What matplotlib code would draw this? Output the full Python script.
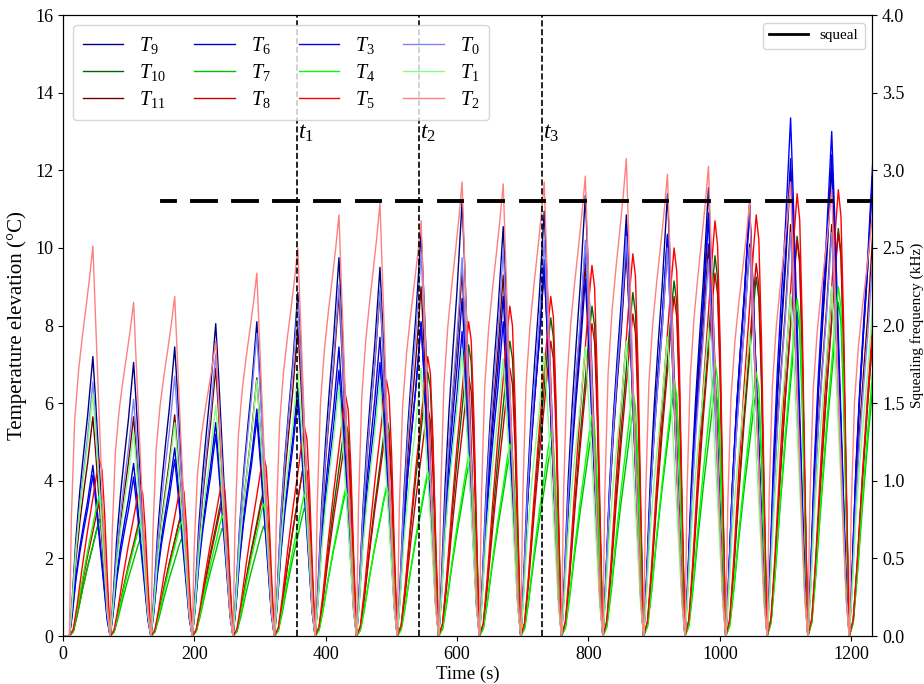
import matplotlib
matplotlib.use("Agg")
import matplotlib.pyplot as plt
import numpy as np

plt.rcParams["font.family"] = ["Liberation Serif", "DejaVu Serif"]
plt.rcParams["mathtext.fontset"] = "custom"
plt.rcParams["mathtext.rm"] = "Liberation Serif"
plt.rcParams["mathtext.it"] = "Liberation Serif:italic"

# start of each heating cycle (s); last entry closes the final cycle
cycle_start = [10, 72, 134, 197, 259, 322, 384, 447, 509, 572,
               634, 697, 759, 822, 884, 947, 1009, 1072, 1134, 1197, 1259.5]

# normalised cycle profiles (time into cycle, fraction of peak)
fast_tau = [0, 3, 8, 14, 20, 26, 31, 36, 40, 46, 52, 58, 62.5]
fast_val = [0, 0.3, 0.55, 0.68, 0.77, 0.85, 0.92, 1.0, 0.82, 0.55, 0.3, 0.08, 0]
mid_tau = [0, 4, 10, 16, 22, 28, 33, 36, 40, 46, 52, 58, 62.5]
mid_val = [0, 0.12, 0.35, 0.52, 0.66, 0.79, 0.92, 1.0, 0.85, 0.6, 0.35, 0.1, 0]
slow_tau = [0, 6, 12, 20, 28, 36, 42, 46, 50, 54, 58, 62.5]
slow_val = [0, 0.04, 0.18, 0.4, 0.6, 0.78, 0.92, 1.0, 0.94, 0.7, 0.35, 0]

# peak temperature elevation per cycle (degC)
T9 = [7.2, 7.05, 7.45, 8.05, 8.1, 8.85, 9.75, 9.5, 10.4, 11.2,
      10.55, 10.95, 11.35, 10.85, 11.4, 11.55, 11.1, 12.0, 12.1, 12.0]
T10 = [3.0, 2.95, 3.15, 3.6, 3.75, 4.5, 5.55, 5.65, 6.8, 7.5,
       7.6, 8.2, 8.5, 8.85, 9.15, 9.8, 9.25, 10.3, 10.5, 10.0]
T11 = [5.65, 5.65, 5.7, 6.9, 6.65, 7.95, 8.8, 8.85, 9.0, 9.4,
       9.3, 9.5, 9.6, 9.9, 10.0, 10.1, 10.1, 10.6, 10.6, 10.4]
T6 = [4.4, 4.45, 4.85, 5.5, 5.85, 6.4, 7.45, 7.7, 8.1, 8.7,
      8.75, 9.5, 9.2, 10.1, 10.3, 10.9, 11.0, 12.3, 12.4, 12.0]
T7 = [2.97, 2.5, 2.5, 2.78, 2.83, 3.3, 3.7, 3.8, 4.15, 4.4,
      4.7, 4.85, 5.3, 5.75, 6.35, 6.4, 6.35, 8.35, 8.6, 8.3]
T8 = [3.45, 3.05, 3.15, 3.45, 3.65, 4.5, 5.1, 5.4, 5.9, 6.7,
      6.9, 7.6, 8.05, 8.3, 8.75, 9.35, 9.6, 10.2, 10.4, 10.0]
T3 = [4.15, 4.1, 4.55, 5.2, 5.6, 6.1, 6.85, 7.05, 8.05, 7.85,
      8.1, 9.7, 10.05, 10.5, 10.35, 10.8, 11.15, 13.35, 13.0, 12.3]
T4 = [3.65, 2.9, 2.95, 3.1, 3.4, 3.65, 3.8, 3.85, 4.25, 4.65,
      4.95, 5.25, 5.7, 6.3, 6.6, 7.05, 6.8, 8.7, 9.0, 8.8]
T5 = [4.55, 3.9, 3.95, 4.0, 4.65, 5.4, 6.2, 6.6, 7.2, 8.1,
      8.5, 8.75, 9.55, 9.85, 10.0, 10.7, 10.85, 11.4, 11.5, 10.4]
T0 = [6.55, 6.1, 6.7, 7.25, 7.8, 8.6, 9.05, 8.95, 9.85, 9.75,
      9.95, 10.2, 10.2, 10.3, 10.0, 9.7, 10.0, 10.4, 10.4, 9.8]
T1 = [6.25, 5.25, 5.5, 5.95, 6.6, 6.85, 6.45, 6.6, 6.9, 7.4,
      7.15, 7.3, 7.45, 7.6, 7.7, 7.95, 7.8, 8.8, 9.0, 8.6]
T2 = [10.05, 8.6, 8.75, 7.6, 9.35, 10.0, 10.85, 11.15, 10.7, 11.7,
      11.65, 11.7, 11.85, 12.3, 11.9, 12.1, 11.2, 11.7, 11.5, 11.0]

# squeal episodes (s) and frequency (kHz)
squeal_on = [151, 197, 259, 322, 384, 447, 509, 572, 634, 697,
             759, 822, 884, 947, 1009, 1072, 1134, 1197]
squeal_off = [171, 233, 296, 358, 420, 483, 545, 608, 670, 733,
              795, 858, 920, 983, 1045, 1108, 1171, 1232]
squeal_khz = 2.8

events = [356, 542, 729]
event_labels = ["$t_1$", "$t_2$", "$t_3$"]

series = [
    ("$T_9$", T9, (0.0, 0.0, 0.5), "mid"),
    ("$T_{10}$", T10, (0.0, 0.4, 0.0), "slow"),
    ("$T_{11}$", T11, (0.45, 0.0, 0.0), "mid"),
    ("$T_6$", T6, (0.0, 0.0, 0.8), "mid"),
    ("$T_7$", T7, (0.0, 0.75, 0.0), "slow"),
    ("$T_8$", T8, (0.8, 0.0, 0.0), "slow"),
    ("$T_3$", T3, (0.0, 0.0, 1.0), "mid"),
    ("$T_4$", T4, (0.0, 1.0, 0.0), "slow"),
    ("$T_5$", T5, (1.0, 0.0, 0.0), "slow"),
    ("$T_0$", T0, (0.5, 0.5, 1.0), "mid"),
    ("$T_1$", T1, (0.5, 1.0, 0.5), "mid"),
    ("$T_2$", T2, (1.0, 0.5, 0.5), "fast"),
]
profiles = {"fast": (fast_tau, fast_val), "mid": (mid_tau, mid_val),
            "slow": (slow_tau, slow_val)}


def build_trace(peaks, kind):
    tau, val = profiles[kind]
    t, y = [0.0], [0.0]
    for k, peak in enumerate(peaks):
        start = cycle_start[k]
        scale = (cycle_start[k + 1] - start) / tau[-1]
        t += [start + s * scale for s in tau]
        y += [peak * v for v in val]
    return np.array(t), np.array(y)


fig = plt.figure(figsize=(9.24, 6.84), dpi=100)
ax = fig.add_axes([0.068, 0.070, 0.876, 0.908])

for label, peaks, color, kind in series:
    t, y = build_trace(peaks, kind)
    ax.plot(t, y, color=color, lw=1.0, label=label)

for x, lab in zip(events, event_labels):
    ax.axvline(x, color="black", ls="--", lw=1.2)
    ax.text(x + 2, 12.95, lab, fontsize=17, va="center", ha="left")

ax.set_xlim(0, 1232)
ax.set_ylim(0, 16.0)
ax.set_xticks(np.arange(0, 1201, 200))
ax.set_yticks(np.arange(0, 17, 2))
ax.tick_params(labelsize=13)
ax.set_xlabel("Time (s)", fontsize=13.5, labelpad=2)
ax.set_ylabel("Temperature elevation (°C)", fontsize=15, labelpad=6)
ax.legend(ncol=4, loc="upper left", fontsize=14.5, handlelength=2.0,
          columnspacing=1.4, labelspacing=0.3, borderpad=0.5)

ax2 = ax.twinx()
sq_t, sq_f = [], []
for a, b in zip(squeal_on, squeal_off):
    sq_t += [a, b, np.nan]
    sq_f += [squeal_khz, squeal_khz, np.nan]
ax2.plot(sq_t, sq_f, color="black", lw=2.8, label="squeal")
ax2.set_ylim(0, 4.0)
ax2.set_yticks(np.arange(0, 4.01, 0.5))
ax2.tick_params(labelsize=13)
ax2.set_ylabel("Squealing frequency (kHz)", fontsize=11)
leg2 = ax2.legend(loc="upper right", fontsize=11, handlelength=2.5)
leg2.get_lines()[0].set_linewidth(2.0)

fig.savefig("out.png", dpi=100)
